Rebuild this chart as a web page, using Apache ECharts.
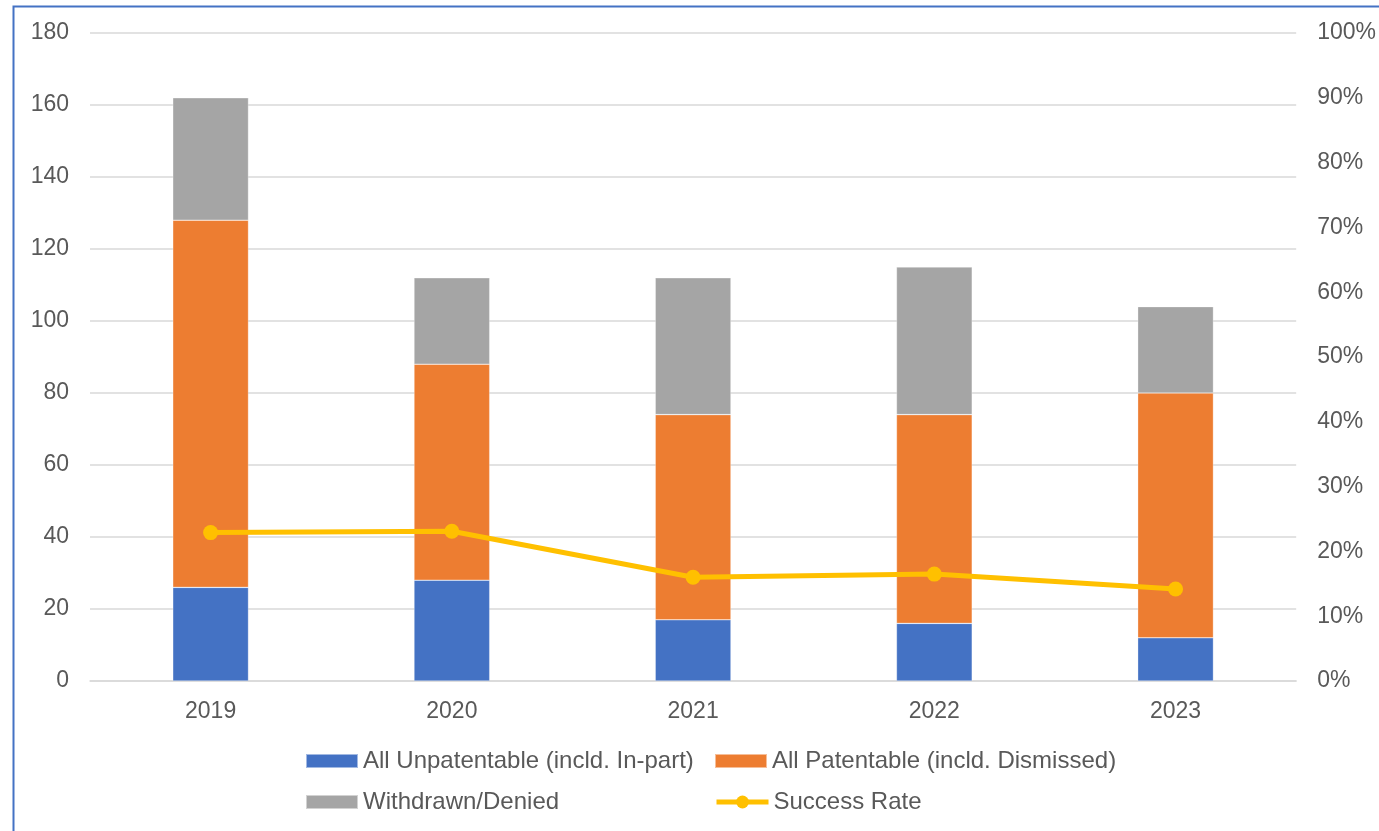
<!DOCTYPE html>
<html>
<head>
<meta charset="utf-8">
<script src="https://cdn.jsdelivr.net/npm/echarts@6/dist/echarts.min.js"></script>
<style>
  html, body { margin: 0; padding: 0; background: #fff; }
  #chart { width: 1379px; height: 831px; }
</style>
</head>
<body>
<div id="chart"></div>
<script>
// Yearly outcomes (counts) and success rate (share)
const years = ['2019', '2020', '2021', '2022', '2023'];
const unpatentable = [26, 28, 17, 16, 12];
const patentable = [102, 60, 57, 58, 68];
const withdrawn = [34, 24, 38, 41, 24];
const successRate = [0.229, 0.231, 0.160, 0.165, 0.142];

const names = {
  unpat: 'All Unpatentable (incld. In-part)',
  pat: 'All Patentable (incld. Dismissed)',
  wd: 'Withdrawn/Denied',
  rate: 'Success Rate'
};

const FONT = '"Liberation Sans", Arial, sans-serif';
const FS = 23;
const TXT = '#595959';
const GRID = '#D9D9D9';

function legendAt(name, left, top, square) {
  const lg = {
    data: [name],
    left: left,
    top: top,
    itemWidth: 52,
    itemHeight: square ? 14 : 16,
    itemGap: 0,
    padding: 0,
    selectedMode: false,
    lineStyle: { width: 5 },
    textStyle: { fontFamily: FONT, fontSize: 24, color: TXT, padding: [0, 0, 0, 0] }
  };
  if (square) lg.icon = 'rect';
  return lg;
}

const chart = echarts.init(document.getElementById('chart'), null, { renderer: 'canvas' });
chart.setOption({
  animation: false,
  backgroundColor: '#fff',
  graphic: [{
    type: 'rect',
    left: 11, top: 4,
    shape: { width: 1420, height: 900 },
    style: { fill: 'none', stroke: '#4472C4', lineWidth: 2 },
    silent: true
  }],
  grid: { left: 90, right: 80, top: 33, bottom: 150, containLabel: false },
  legend: [
    legendAt(names.unpat, 305, 749, true),
    legendAt(names.pat, 714, 749, true),
    legendAt(names.wd, 305, 790, true),
    legendAt(names.rate, 714, 790, false)
  ],
  xAxis: {
    type: 'category',
    data: years,
    axisLine: { show: true, lineStyle: { color: GRID, width: 1.5 } },
    axisTick: { show: false },
    axisLabel: { fontFamily: FONT, fontSize: FS, color: TXT, margin: 19 }
  },
  yAxis: [{
    type: 'value',
    min: 0, max: 180, interval: 20,
    axisLine: { show: false },
    axisTick: { show: false },
    splitLine: { lineStyle: { color: GRID, width: 1.5 } },
    axisLabel: { fontFamily: FONT, fontSize: FS, color: TXT, margin: 21 }
  }, {
    type: 'value',
    min: 0, max: 1, interval: 0.1,
    position: 'right',
    axisLine: { show: false },
    axisTick: { show: false },
    splitLine: { show: false },
    axisLabel: {
      fontFamily: FONT, fontSize: FS, color: TXT, margin: 21,
      formatter: v => Math.round(v * 100) + '%'
    }
  }],
  series: [{
    name: names.unpat, type: 'bar', stack: 'total', data: unpatentable,
    barWidth: '31.4%',
    itemStyle: { color: '#4472C4', borderColor: 'rgba(255,255,255,0.5)', borderWidth: 0.6 }
  }, {
    name: names.pat, type: 'bar', stack: 'total', data: patentable,
    itemStyle: { color: '#ED7D31', borderColor: 'rgba(255,255,255,0.5)', borderWidth: 0.6 }
  }, {
    name: names.wd, type: 'bar', stack: 'total', data: withdrawn,
    itemStyle: { color: '#A5A5A5', borderColor: 'rgba(255,255,255,0.5)', borderWidth: 0.6 }
  }, {
    name: names.rate, type: 'line', yAxisIndex: 1, data: successRate,
    symbol: 'circle', symbolSize: 15, z: 5,
    lineStyle: { color: '#FFC000', width: 5 },
    itemStyle: { color: '#FFC000' }
  }]
});
</script>
</body>
</html>
